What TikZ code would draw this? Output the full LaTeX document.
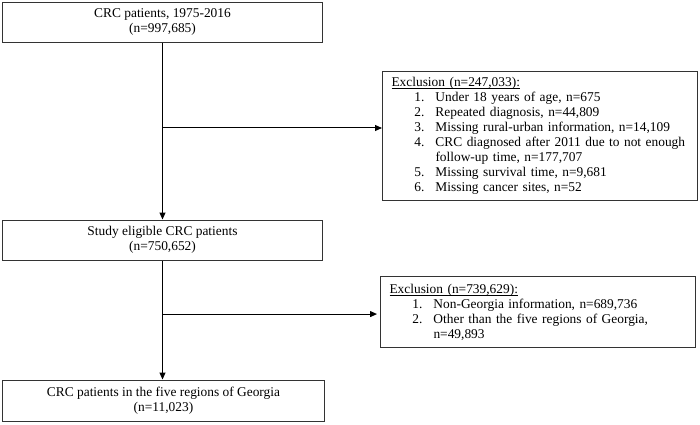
\documentclass[tikz,border=0pt]{standalone}
\usepackage{fontspec}
\setmainfont{Liberation Serif}
\usetikzlibrary{arrows.meta,calc}

\newcommand{\itm}[2]{\makebox[33pt][r]{#1.}\hspace{11pt}#2}
\newcommand{\cont}[1]{\hspace{44pt}#1}
\newcommand{\ulx}[1]{{\setbox0\hbox{#1}\rlap{\rule[-2pt]{\wd0}{0.6pt}}\box0}}

\begin{document}
\begin{tikzpicture}[x=1pt,y=-1pt,line width=1pt,font=\fontsize{13.4}{15}\selectfont]
\tikzstyle{box}=[draw=black!80,minimum width=320pt,minimum height=40pt,align=center,inner sep=0pt]
\tikzstyle{excl}=[draw=black!80,anchor=north west,align=left,inner xsep=9pt,inner ysep=0pt,text width=297pt]
\tikzstyle{arr}=[-{Triangle[length=7pt,width=6pt]}]

\useasboundingbox (0,0) rectangle (700,424);

\node[box] (b1) at (162.5,22) {CRC patients, 1975-2016\\(n=997,685)};
\node[box] (b2) at (162.5,240) {Study eligible CRC patients\\(n=750,652)};
\node[box,minimum width=322pt,minimum height=41pt] (b3) at (163.5,400.5) {CRC patients in the five regions of Georgia\\(n=11,023)};

\node[excl,minimum height=129pt] (ex1) at (382,71) {\ulx{Exclusion (n=247,033):}\\
\itm{1}{Under 18 years of age, n=675}\\
\itm{2}{Repeated diagnosis, n=44,809}\\
\itm{3}{Missing rural-urban information, n=14,109}\\
\itm{4}{CRC diagnosed after 2011 due to not enough}\\
\cont{follow-up time, n=177,707}\\
\itm{5}{Missing survival time, n=9,681}\\
\itm{6}{Missing cancer sites, n=52}};

\node[excl,minimum height=71pt] (ex2) at (380,276) {\ulx{Exclusion (n=739,629):}\\
\itm{1}{Non-Georgia information, n=689,736}\\
\itm{2}{Other than the five regions of Georgia,}\\
\cont{n=49,893}};

% main flow
\draw[arr] (b1.south) -- (b1.south |- b2.north);
\draw[arr] (b2.south) -- (b2.south |- b3.north);

% exclusions
\coordinate (j1) at ($(b1.south)!.483!(b1.south |- b2.north)$);
\draw[arr] (j1) -- (j1 -| ex1.west);
\coordinate (j2) at ($(b2.south)!.45!(b2.south |- b3.north)$);
\draw[arr,shorten >=3pt] (j2) -- (j2 -| ex2.west);
\end{tikzpicture}
\end{document}
